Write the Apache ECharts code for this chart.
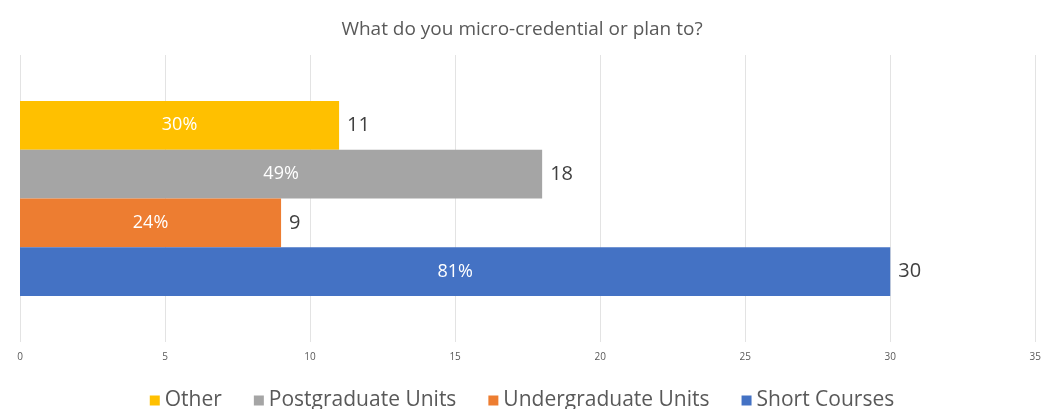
<!DOCTYPE html>
<html>
<head>
<meta charset="utf-8">
<script src="https://cdn.jsdelivr.net/npm/echarts@6/dist/echarts.min.js"></script>
<style>html,body{margin:0;padding:0;background:#fff}#c{width:1044px;height:409px}</style>
</head>
<body>
<div id="c"></div>
<script>
const titleText = 'What do you micro-credential or plan to?';
const seriesNames = ['Other', 'Postgraduate Units', 'Undergraduate Units', 'Short Courses'];
const seriesValues = [11, 18, 9, 30];
const seriesPercents = ['30%', '49%', '24%', '81%'];
const seriesColors = ['#FFC000', '#A5A5A5', '#ED7D31', '#4472C4'];
const xTicks = [0, 5, 10, 15, 20, 25, 30, 35];

const chart = echarts.init(document.getElementById('c'));
const font = '"Open Sans", "Liberation Sans", sans-serif';
const barSeries = seriesNames.map((n, i) => ({
  name: n, type: 'bar', yAxisIndex: 0,
  barGap: 0, barCategoryGap: '32%',
  itemStyle: { color: seriesColors[i] },
  label: { show: true, position: 'inside', formatter: () => seriesPercents[i],
    color: '#fff', fontSize: 18, fontFamily: font },
  data: [seriesValues[i]]
}));
const labelSeries = seriesNames.map((n, i) => ({
  name: n, type: 'bar', yAxisIndex: 1,
  barGap: 0, barCategoryGap: '32%',
  itemStyle: { color: 'rgba(0,0,0,0)' },
  label: { show: true, position: 'right', distance: 8, color: '#404040', fontSize: 20, fontFamily: font },
  silent: true,
  data: [seriesValues[i]]
}));
chart.setOption({
  animation: false,
  title: { text: titleText, left: 'center', top: 15,
    textStyle: { fontSize: 19, fontWeight: 'normal', color: '#595959', fontFamily: font } },
  legend: { data: seriesNames, top: 385, left: 'center', itemWidth: 10, itemHeight: 10, itemGap: 32,
    icon: 'rect', textStyle: { fontSize: 21, color: '#595959', fontFamily: font } },
  grid: { left: 20, right: 8, top: 55, bottom: 67, containLabel: false },
  xAxis: { type: 'value', min: xTicks[0], max: xTicks[xTicks.length - 1], interval: 5,
    axisLine: { show: false }, axisTick: { show: false },
    axisLabel: { fontSize: 10, color: '#595959', margin: 10, fontFamily: font },
    splitLine: { lineStyle: { color: '#E3E3E3', width: 1 } } },
  yAxis: [
    { type: 'category', data: [''], axisLine: { show: false }, axisTick: { show: false }, axisLabel: { show: false } },
    { type: 'category', data: [''], show: false }
  ],
  series: barSeries.concat(labelSeries)
});
</script>
</body>
</html>
